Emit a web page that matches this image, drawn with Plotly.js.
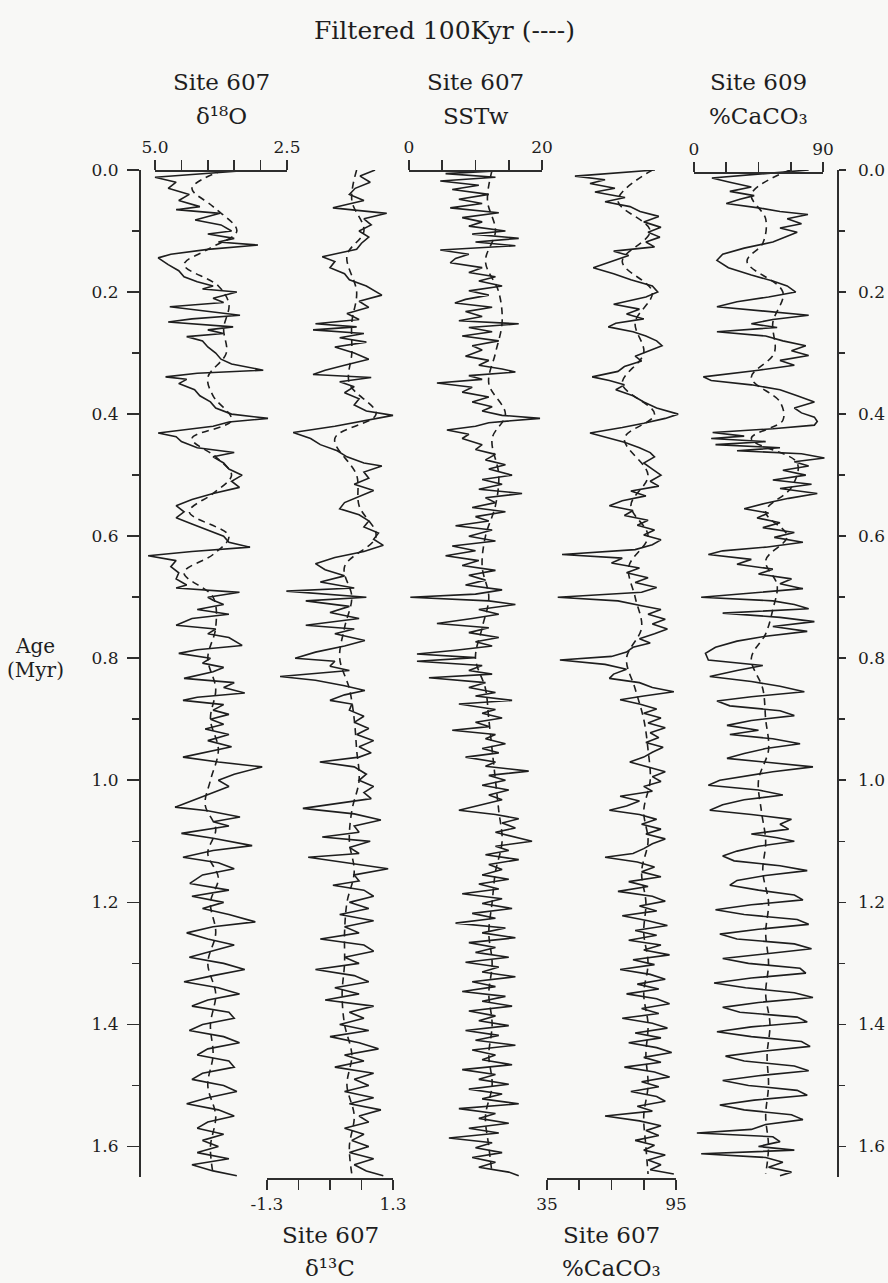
<!DOCTYPE html>
<html>
<head>
<meta charset="utf-8">
<script src="https://cdn.plot.ly/plotly-3.0.1.min.js"></script>
<style>html,body{margin:0;padding:0;background:#f8f8f6;}#chart{width:888px;height:1283px;}</style>
</head>
<body>
<div id="chart"></div>
<script>
// ---------- DATA (age in Myr, value) ----------
const d18O = [[0.000,3.14],[0.012,5.0],[0.02,4.6],[0.03,4.75],[0.04,4.35],[0.05,4.55],[0.06,4.15],[0.065,4.6],[0.071,3.77],[0.082,4.24],[0.09,3.75],[0.1,3.55],[0.105,4.0],[0.112,3.5],[0.118,3.8],[0.123,3.05],[0.13,4.0],[0.138,4.7],[0.144,4.94],[0.155,4.75],[0.165,4.55],[0.175,4.45],[0.183,4.2],[0.19,3.9],[0.195,4.1],[0.2,3.45],[0.21,3.9],[0.217,3.7],[0.224,4.72],[0.232,3.9],[0.238,3.39],[0.244,4.3],[0.249,4.75],[0.257,3.52],[0.262,4.0],[0.268,3.7],[0.273,4.4],[0.28,4.1],[0.29,4.0],[0.3,3.85],[0.31,3.75],[0.318,3.55],[0.328,2.95],[0.333,4.2],[0.339,4.8],[0.343,4.4],[0.35,4.55],[0.36,4.25],[0.37,4.15],[0.38,3.95],[0.39,3.85],[0.4,3.55],[0.407,2.86],[0.413,3.6],[0.42,3.9],[0.431,4.94],[0.437,4.6],[0.445,4.5],[0.455,4.2],[0.463,3.5],[0.47,3.9],[0.48,3.7],[0.49,3.6],[0.5,3.35],[0.51,3.55],[0.52,3.4],[0.53,3.9],[0.54,4.3],[0.55,4.6],[0.56,4.45],[0.57,4.6],[0.58,4.3],[0.59,4.0],[0.6,3.7],[0.61,3.6],[0.618,3.2],[0.625,4.3],[0.632,5.13],[0.64,4.6],[0.65,4.7],[0.66,4.55],[0.67,4.6],[0.68,4.4],[0.685,4.6],[0.692,3.4],[0.70,4.0],[0.705,3.9],[0.712,3.7],[0.72,4.2],[0.728,3.6],[0.735,4.3],[0.746,4.6],[0.752,3.85],[0.76,4.0],[0.766,3.6],[0.779,3.35],[0.786,4.2],[0.792,4.55],[0.8,3.95],[0.808,4.1],[0.815,3.7],[0.822,3.9],[0.833,4.45],[0.84,3.5],[0.848,3.7],[0.857,3.3],[0.864,4.2],[0.869,4.47],[0.876,3.7],[0.885,3.9],[0.892,3.6],[0.9,3.95],[0.908,3.7],[0.916,4.05],[0.925,3.6],[0.935,4.0],[0.945,3.55],[0.955,4.1],[0.962,4.47],[0.97,3.8],[0.978,2.97],[0.99,3.5],[1.0,3.8],[1.01,3.6],[1.02,3.9],[1.03,4.2],[1.044,4.62],[1.05,4.0],[1.06,3.39],[1.068,3.9],[1.075,3.6],[1.087,4.5],[1.095,3.9],[1.107,3.16],[1.115,3.9],[1.126,4.47],[1.135,3.8],[1.145,3.5],[1.155,4.1],[1.169,4.34],[1.18,3.6],[1.19,4.3],[1.2,3.7],[1.21,4.1],[1.22,3.6],[1.232,3.1],[1.24,3.9],[1.25,4.4],[1.26,4.0],[1.27,3.5],[1.28,3.9],[1.29,4.35],[1.3,3.7],[1.31,3.3],[1.32,3.9],[1.33,4.45],[1.34,3.8],[1.35,3.4],[1.36,4.0],[1.37,4.3],[1.38,3.6],[1.39,3.5],[1.4,4.1],[1.41,4.35],[1.42,3.7],[1.43,3.4],[1.44,4.0],[1.45,4.2],[1.46,3.6],[1.47,3.5],[1.48,4.1],[1.49,4.3],[1.5,3.7],[1.51,3.45],[1.52,4.0],[1.53,4.4],[1.54,3.8],[1.55,3.5],[1.56,4.0],[1.57,4.2],[1.58,3.7],[1.59,4.1],[1.6,3.8],[1.61,4.2],[1.62,3.6],[1.63,4.3],[1.64,3.9],[1.648,3.45]];
const d18OFilt = [[0.0,3.7],[0.03,4.3],[0.06,3.9],[0.1,3.45],[0.13,4.0],[0.155,4.45],[0.19,3.8],[0.22,3.6],[0.26,3.7],[0.3,3.65],[0.34,4.0],[0.37,3.9],[0.41,3.55],[0.44,4.3],[0.47,3.85],[0.5,3.55],[0.53,3.9],[0.56,4.35],[0.6,3.6],[0.63,3.9],[0.66,4.45],[0.7,3.9],[0.75,3.85],[0.8,4.0],[0.85,3.85],[0.9,3.95],[0.95,3.8],[1.0,3.95],[1.04,4.05],[1.08,3.85],[1.12,4.0],[1.16,3.8],[1.2,3.95],[1.25,3.85],[1.3,4.0],[1.35,3.85],[1.4,3.95],[1.45,3.9],[1.5,4.0],[1.55,3.85],[1.6,3.95],[1.645,3.9]];

const d13C = [[0.0,0.93],[0.01,0.62],[0.02,0.83],[0.03,0.52],[0.04,0.4],[0.05,0.7],[0.062,0.06],[0.071,1.17],[0.08,0.7],[0.09,0.85],[0.1,0.6],[0.11,0.8],[0.12,0.65],[0.13,0.55],[0.142,-0.16],[0.15,0.1],[0.16,0.0],[0.17,0.3],[0.18,0.4],[0.19,0.75],[0.205,1.07],[0.215,0.6],[0.225,0.8],[0.235,0.35],[0.245,0.6],[0.252,-0.3],[0.257,0.55],[0.262,-0.35],[0.268,0.7],[0.275,0.2],[0.282,0.75],[0.29,0.1],[0.3,0.5],[0.31,0.8],[0.32,0.3],[0.328,-0.1],[0.335,-0.35],[0.34,0.85],[0.347,0.2],[0.355,0.5],[0.365,0.3],[0.375,0.6],[0.385,0.5],[0.395,0.75],[0.402,1.3],[0.41,0.8],[0.42,0.1],[0.43,-0.76],[0.44,-0.4],[0.45,-0.2],[0.46,0.15],[0.47,0.35],[0.48,0.7],[0.485,1.07],[0.495,0.7],[0.505,0.8],[0.515,0.5],[0.525,0.9],[0.535,0.6],[0.545,0.3],[0.555,0.2],[0.565,0.6],[0.575,0.8],[0.585,0.7],[0.595,1.0],[0.605,0.9],[0.615,1.1],[0.625,0.7],[0.635,0.1],[0.645,-0.3],[0.655,-0.1],[0.665,0.3],[0.675,-0.2],[0.685,0.5],[0.69,-0.9],[0.7,0.75],[0.706,-0.5],[0.715,0.4],[0.725,0.0],[0.735,0.6],[0.746,-0.5],[0.752,0.5],[0.76,0.1],[0.771,0.72],[0.78,0.3],[0.79,-0.3],[0.8,-0.72],[0.805,0.1],[0.813,0.0],[0.82,0.4],[0.83,-1.03],[0.836,-0.3],[0.845,0.3],[0.853,0.72],[0.86,0.3],[0.869,0.0],[0.875,0.45],[0.885,0.4],[0.895,0.7],[0.905,0.5],[0.915,0.8],[0.925,0.55],[0.935,0.9],[0.945,0.6],[0.955,0.85],[0.962,0.6],[0.97,-0.21],[0.978,0.5],[0.99,0.75],[1.0,0.6],[1.01,0.9],[1.02,0.7],[1.03,0.85],[1.046,-0.56],[1.055,0.5],[1.065,1.05],[1.075,0.5],[1.085,0.6],[1.093,-0.16],[1.1,0.83],[1.11,0.4],[1.12,0.6],[1.126,-0.45],[1.135,0.3],[1.145,1.2],[1.155,0.5],[1.165,0.6],[1.172,0.06],[1.18,0.7],[1.19,0.9],[1.2,0.4],[1.21,0.8],[1.22,0.2],[1.23,0.9],[1.24,0.3],[1.25,0.6],[1.26,-0.2],[1.27,0.7],[1.28,0.9],[1.29,0.3],[1.3,0.6],[1.31,-0.3],[1.32,0.5],[1.33,0.8],[1.34,0.1],[1.35,0.6],[1.36,-0.1],[1.37,0.9],[1.38,0.4],[1.39,0.7],[1.4,0.2],[1.41,0.8],[1.42,0.0],[1.43,0.6],[1.44,1.0],[1.45,0.3],[1.46,0.7],[1.47,0.1],[1.48,0.9],[1.49,0.5],[1.5,0.8],[1.51,0.3],[1.52,0.9],[1.53,0.4],[1.54,1.05],[1.55,0.6],[1.56,0.8],[1.57,0.3],[1.58,0.7],[1.59,0.45],[1.6,0.8],[1.61,0.4],[1.62,0.9],[1.63,0.5],[1.64,0.75],[1.648,1.1]];
const d13CFilt = [[0.0,0.55],[0.05,0.45],[0.1,0.7],[0.14,0.35],[0.2,0.55],[0.25,0.45],[0.3,0.45],[0.35,0.4],[0.4,0.95],[0.44,0.1],[0.5,0.55],[0.55,0.6],[0.6,0.95],[0.65,0.3],[0.7,0.45],[0.75,0.3],[0.8,0.2],[0.85,0.4],[0.9,0.5],[0.95,0.55],[1.0,0.6],[1.05,0.45],[1.1,0.4],[1.15,0.5],[1.2,0.35],[1.25,0.3],[1.3,0.3],[1.35,0.25],[1.4,0.3],[1.45,0.45],[1.5,0.35],[1.55,0.5],[1.6,0.4],[1.645,0.45]];

const sstw = [[0.0,15.5],[0.006,5.5],[0.012,13.0],[0.018,4.7],[0.025,10.5],[0.032,6.5],[0.04,12.0],[0.048,7.5],[0.055,11.0],[0.062,6.2],[0.07,13.5],[0.078,8.0],[0.085,11.0],[0.092,9.0],[0.1,14.5],[0.105,9.5],[0.112,16.5],[0.118,10.0],[0.124,16.0],[0.131,4.7],[0.138,9.0],[0.145,7.0],[0.152,6.2],[0.16,11.0],[0.168,9.0],[0.175,13.0],[0.182,10.5],[0.19,14.0],[0.198,9.0],[0.205,12.0],[0.212,8.5],[0.218,6.9],[0.225,12.5],[0.232,8.5],[0.24,11.0],[0.247,7.5],[0.252,16.5],[0.258,9.0],[0.265,12.5],[0.272,8.0],[0.28,13.5],[0.288,9.5],[0.295,11.0],[0.305,8.5],[0.312,12.0],[0.32,10.5],[0.326,14.0],[0.331,16.0],[0.337,9.0],[0.343,11.0],[0.349,4.2],[0.356,9.5],[0.364,8.0],[0.372,12.0],[0.38,9.5],[0.388,12.5],[0.395,11.0],[0.402,14.0],[0.407,19.7],[0.414,12.0],[0.42,10.0],[0.426,5.7],[0.433,9.0],[0.44,8.0],[0.45,11.0],[0.458,10.0],[0.466,13.0],[0.475,11.5],[0.483,14.5],[0.49,12.0],[0.5,15.5],[0.507,11.0],[0.515,14.0],[0.523,10.5],[0.53,17.0],[0.537,11.5],[0.545,13.0],[0.553,9.5],[0.56,14.5],[0.568,10.0],[0.575,12.0],[0.583,7.0],[0.59,12.5],[0.6,9.0],[0.608,13.0],[0.616,6.5],[0.624,10.0],[0.632,5.5],[0.64,10.5],[0.648,8.0],[0.656,13.0],[0.664,9.0],[0.672,11.5],[0.68,8.5],[0.688,14.0],[0.695,10.0],[0.70,0.2],[0.706,12.0],[0.712,16.0],[0.72,10.5],[0.728,13.5],[0.735,9.5],[0.743,4.2],[0.75,12.0],[0.758,9.0],[0.766,13.5],[0.773,10.0],[0.78,12.5],[0.787,7.0],[0.793,1.2],[0.799,10.0],[0.805,1.2],[0.812,11.0],[0.82,9.0],[0.826,12.5],[0.832,3.0],[0.84,11.5],[0.848,9.0],[0.856,13.0],[0.862,10.0],[0.869,15.5],[0.875,7.5],[0.884,13.0],[0.89,11.0],[0.898,14.0],[0.905,10.0],[0.912,12.0],[0.918,6.5],[0.925,13.0],[0.932,11.5],[0.94,14.5],[0.948,11.0],[0.955,13.5],[0.962,8.5],[0.97,13.0],[0.977,11.5],[0.985,18.0],[0.992,12.0],[1.0,14.5],[1.008,11.0],[1.016,15.0],[1.024,12.0],[1.032,14.0],[1.04,11.0],[1.049,7.5],[1.056,13.0],[1.063,16.5],[1.07,14.0],[1.078,16.0],[1.085,13.0],[1.092,15.5],[1.1,18.5],[1.108,13.0],[1.115,15.0],[1.122,11.5],[1.13,16.5],[1.138,12.0],[1.146,14.0],[1.155,11.0],[1.162,15.0],[1.17,10.5],[1.178,13.5],[1.186,8.0],[1.194,14.0],[1.202,11.0],[1.21,15.5],[1.218,9.5],[1.226,13.0],[1.234,7.0],[1.242,14.5],[1.25,11.0],[1.258,16.0],[1.266,9.0],[1.274,13.0],[1.282,10.0],[1.29,15.0],[1.298,8.5],[1.306,13.5],[1.314,11.0],[1.322,16.0],[1.33,9.5],[1.338,13.0],[1.346,8.0],[1.354,14.5],[1.362,11.0],[1.37,15.5],[1.378,9.0],[1.386,13.0],[1.394,10.5],[1.402,15.0],[1.41,8.5],[1.418,13.5],[1.426,10.0],[1.434,16.0],[1.442,9.5],[1.45,13.0],[1.458,11.0],[1.466,15.5],[1.474,8.0],[1.482,13.0],[1.49,10.5],[1.498,15.0],[1.506,9.0],[1.514,14.0],[1.522,11.0],[1.53,16.5],[1.538,7.5],[1.546,13.0],[1.554,10.5],[1.562,15.0],[1.57,9.0],[1.578,13.5],[1.586,6.0],[1.594,12.5],[1.602,10.0],[1.61,14.0],[1.618,9.5],[1.626,13.0],[1.634,10.5],[1.642,15.0],[1.648,16.5]];
const sstwFilt = [[0.0,12.5],[0.05,11.8],[0.1,13.0],[0.15,11.5],[0.2,13.5],[0.25,14.0],[0.3,13.0],[0.35,12.0],[0.4,14.5],[0.44,12.5],[0.5,13.5],[0.55,13.0],[0.6,11.5],[0.65,11.0],[0.7,12.0],[0.75,11.0],[0.8,10.0],[0.85,11.5],[0.9,12.0],[0.95,12.5],[1.0,13.0],[1.05,13.5],[1.1,14.0],[1.15,13.0],[1.2,12.5],[1.25,12.0],[1.3,12.5],[1.35,12.0],[1.4,12.5],[1.45,12.0],[1.5,12.5],[1.55,11.5],[1.6,12.0],[1.645,12.5]];

const caco3_607 = [[0.0,85.2],[0.01,48.0],[0.016,62.0],[0.022,55.0],[0.03,66.6],[0.036,57.3],[0.045,71.3],[0.052,62.0],[0.06,73.6],[0.068,78.3],[0.076,87.0],[0.085,80.0],[0.094,88.0],[0.102,82.0],[0.11,87.5],[0.118,81.0],[0.126,85.0],[0.133,66.0],[0.14,73.0],[0.147,67.0],[0.155,60.0],[0.16,56.5],[0.17,66.0],[0.18,74.0],[0.19,84.0],[0.2,86.5],[0.208,81.0],[0.215,73.0],[0.22,66.0],[0.228,78.0],[0.236,72.0],[0.244,80.0],[0.251,67.0],[0.257,63.5],[0.265,75.0],[0.272,81.0],[0.28,86.0],[0.288,88.5],[0.296,83.0],[0.305,76.0],[0.313,79.0],[0.322,71.0],[0.33,68.0],[0.339,56.0],[0.345,64.0],[0.352,71.0],[0.36,67.0],[0.37,75.0],[0.38,80.0],[0.39,86.0],[0.4,96.0],[0.407,90.0],[0.415,80.0],[0.422,70.0],[0.431,55.0],[0.438,62.0],[0.446,71.0],[0.455,78.0],[0.463,83.0],[0.47,85.0],[0.48,80.0],[0.49,84.0],[0.5,88.0],[0.51,83.0],[0.518,87.0],[0.526,74.0],[0.534,81.0],[0.542,70.0],[0.55,64.0],[0.558,75.0],[0.566,71.0],[0.574,82.0],[0.582,77.0],[0.59,85.0],[0.598,80.0],[0.606,88.0],[0.614,84.0],[0.622,76.0],[0.63,42.0],[0.636,70.0],[0.644,65.0],[0.652,78.0],[0.66,72.0],[0.668,82.0],[0.676,76.0],[0.684,86.0],[0.692,79.0],[0.70,40.0],[0.706,68.0],[0.714,79.0],[0.72,88.0],[0.728,82.0],[0.736,90.0],[0.744,84.0],[0.752,91.0],[0.76,85.0],[0.768,78.0],[0.775,83.0],[0.782,75.0],[0.79,72.0],[0.797,65.0],[0.803,41.0],[0.81,62.0],[0.818,72.0],[0.826,66.0],[0.833,64.0],[0.84,78.0],[0.848,84.0],[0.855,94.0],[0.862,80.0],[0.868,69.0],[0.875,78.0],[0.883,86.0],[0.89,80.0],[0.898,88.0],[0.906,82.0],[0.914,90.0],[0.922,83.0],[0.93,87.0],[0.938,81.0],[0.946,89.0],[0.954,84.0],[0.962,80.0],[0.97,73.5],[0.978,82.0],[0.986,90.0],[0.994,84.0],[1.002,88.0],[1.01,80.0],[1.018,84.0],[1.026,69.0],[1.034,78.0],[1.042,72.0],[1.049,64.0],[1.056,78.0],[1.064,86.0],[1.072,79.0],[1.08,88.0],[1.088,81.0],[1.096,90.0],[1.104,84.0],[1.112,80.0],[1.12,75.0],[1.126,62.0],[1.134,77.0],[1.142,85.0],[1.15,79.0],[1.158,88.0],[1.166,73.0],[1.174,82.0],[1.182,68.0],[1.19,84.0],[1.198,90.0],[1.206,78.0],[1.214,86.0],[1.222,70.0],[1.23,82.0],[1.238,91.0],[1.246,76.0],[1.254,86.0],[1.262,73.0],[1.27,88.0],[1.278,80.0],[1.286,92.0],[1.294,75.0],[1.302,85.0],[1.31,69.0],[1.318,83.0],[1.326,90.0],[1.334,77.0],[1.342,87.0],[1.35,72.0],[1.358,86.0],[1.366,92.0],[1.374,79.0],[1.382,87.0],[1.39,70.0],[1.398,84.0],[1.406,91.0],[1.414,76.0],[1.422,88.0],[1.43,73.0],[1.438,86.0],[1.446,93.0],[1.454,80.0],[1.462,88.0],[1.47,71.0],[1.478,85.0],[1.486,92.0],[1.494,79.0],[1.502,87.0],[1.51,74.0],[1.518,86.0],[1.526,90.0],[1.534,77.0],[1.542,84.0],[1.55,62.0],[1.558,78.0],[1.566,88.0],[1.574,81.0],[1.582,87.0],[1.59,76.0],[1.598,85.0],[1.606,80.0],[1.614,90.0],[1.622,82.0],[1.63,88.0],[1.638,83.0],[1.645,94.0]];
const caco3_607Filt = [[0.0,84.0],[0.05,68.0],[0.1,83.0],[0.15,70.0],[0.2,84.0],[0.25,76.0],[0.3,80.0],[0.35,70.0],[0.4,85.0],[0.44,71.0],[0.5,82.0],[0.55,74.0],[0.6,82.0],[0.65,73.0],[0.7,76.0],[0.75,79.0],[0.8,72.0],[0.85,76.0],[0.9,80.0],[0.95,82.0],[1.0,83.0],[1.05,80.0],[1.1,82.0],[1.15,79.0],[1.2,81.0],[1.25,80.0],[1.3,82.0],[1.35,80.0],[1.4,82.0],[1.45,81.0],[1.5,82.0],[1.55,80.0],[1.6,81.0],[1.645,82.0]];

const caco3_609 = [[0.0,80.0],[0.013,12.5],[0.02,25.0],[0.028,40.0],[0.035,25.0],[0.042,42.0],[0.048,32.0],[0.055,22.5],[0.062,45.0],[0.068,60.0],[0.073,79.5],[0.08,65.0],[0.088,75.0],[0.095,60.0],[0.102,72.0],[0.11,63.0],[0.118,55.0],[0.128,35.0],[0.138,20.0],[0.148,16.0],[0.16,24.0],[0.172,40.0],[0.182,55.0],[0.19,65.0],[0.2,71.0],[0.208,52.0],[0.216,30.0],[0.224,16.0],[0.232,50.0],[0.238,80.0],[0.245,55.0],[0.252,40.0],[0.258,58.0],[0.265,16.0],[0.272,50.0],[0.28,62.0],[0.288,78.0],[0.296,68.0],[0.304,80.0],[0.312,60.0],[0.32,70.0],[0.328,45.0],[0.339,6.5],[0.345,12.0],[0.352,40.0],[0.36,60.0],[0.37,72.0],[0.38,84.0],[0.39,70.0],[0.398,75.0],[0.405,84.0],[0.412,86.0],[0.418,84.0],[0.424,55.0],[0.43,13.0],[0.436,35.0],[0.44,12.0],[0.445,50.0],[0.45,15.0],[0.455,60.0],[0.46,30.0],[0.465,75.0],[0.472,91.0],[0.478,70.0],[0.485,80.0],[0.492,62.0],[0.5,78.0],[0.508,55.0],[0.515,82.0],[0.522,60.0],[0.53,86.0],[0.538,66.0],[0.546,50.0],[0.555,35.0],[0.562,52.0],[0.57,44.0],[0.578,60.0],[0.586,48.0],[0.594,70.0],[0.602,56.0],[0.61,76.0],[0.618,50.0],[0.624,20.0],[0.63,10.0],[0.638,40.0],[0.646,30.0],[0.654,55.0],[0.662,45.0],[0.67,68.0],[0.678,60.0],[0.686,76.0],[0.693,40.0],[0.70,5.0],[0.706,55.0],[0.712,70.0],[0.719,80.0],[0.726,20.0],[0.733,60.0],[0.74,84.0],[0.748,55.0],[0.756,79.0],[0.764,50.0],[0.772,30.0],[0.782,15.0],[0.792,8.0],[0.803,10.0],[0.812,48.0],[0.82,30.0],[0.83,11.0],[0.838,40.0],[0.846,60.0],[0.855,77.0],[0.863,40.0],[0.87,16.0],[0.878,25.0],[0.886,60.0],[0.894,70.0],[0.902,40.0],[0.91,23.0],[0.918,45.0],[0.925,25.0],[0.932,55.0],[0.94,74.0],[0.948,50.0],[0.956,35.0],[0.964,23.0],[0.972,60.0],[0.978,83.0],[0.986,55.0],[0.995,30.0],[1.0,18.0],[1.008,10.0],[1.016,45.0],[1.024,62.0],[1.032,35.0],[1.04,20.0],[1.049,11.0],[1.056,40.0],[1.064,68.0],[1.072,60.0],[1.08,66.0],[1.088,40.0],[1.094,58.0],[1.1,70.0],[1.108,45.0],[1.116,30.0],[1.124,20.0],[1.132,28.0],[1.14,60.0],[1.148,79.0],[1.156,50.0],[1.164,30.0],[1.172,25.0],[1.18,45.0],[1.188,70.0],[1.196,76.0],[1.204,40.0],[1.212,15.0],[1.22,35.0],[1.228,72.0],[1.236,80.0],[1.244,45.0],[1.252,18.0],[1.26,30.0],[1.268,70.0],[1.276,82.0],[1.284,50.0],[1.292,20.0],[1.3,38.0],[1.308,74.0],[1.316,78.0],[1.324,40.0],[1.332,14.0],[1.34,36.0],[1.348,70.0],[1.356,83.0],[1.364,45.0],[1.372,20.0],[1.38,32.0],[1.388,72.0],[1.396,79.0],[1.404,40.0],[1.412,16.0],[1.42,40.0],[1.428,75.0],[1.436,81.0],[1.444,48.0],[1.452,22.0],[1.46,35.0],[1.468,70.0],[1.476,80.0],[1.484,45.0],[1.492,20.0],[1.5,38.0],[1.508,72.0],[1.516,79.0],[1.524,42.0],[1.532,18.0],[1.54,35.0],[1.548,68.0],[1.556,76.0],[1.564,50.0],[1.572,40.0],[1.578,2.0],[1.584,55.0],[1.592,60.0],[1.6,45.0],[1.606,70.0],[1.612,5.0],[1.618,50.0],[1.626,62.0],[1.634,52.0],[1.642,68.0],[1.648,60.0]];
const caco3_609Filt = [[0.0,67.0],[0.04,40.0],[0.08,50.0],[0.12,48.0],[0.15,37.0],[0.2,62.0],[0.25,55.0],[0.3,56.0],[0.34,40.0],[0.38,60.0],[0.41,62.0],[0.44,40.0],[0.48,72.0],[0.52,68.0],[0.56,50.0],[0.6,65.0],[0.64,50.0],[0.68,58.0],[0.72,55.0],[0.76,50.0],[0.8,40.0],[0.85,48.0],[0.9,50.0],[0.95,52.0],[1.0,45.0],[1.05,47.0],[1.1,50.0],[1.15,48.0],[1.2,52.0],[1.25,50.0],[1.3,52.0],[1.35,50.0],[1.4,53.0],[1.45,51.0],[1.5,52.0],[1.55,50.0],[1.6,52.0],[1.645,50.0]];

// Tick labels
const ageTicks = [0.0,0.2,0.4,0.6,0.8,1.0,1.2,1.4,1.6];
const ageMinor = [0.1,0.3,0.5,0.7,0.9,1.1,1.3,1.5];

// ---------- LAYOUT GEOMETRY ----------
const W = 888, H = 1283;
const yTopPx = 170, yBotPx = 1177, ageMax = 1.65;
const px = v => v / W;
const py = v => 1 - v / H;

// panels: scale-bar extent on the page, value range, labelled end ticks, unlabelled inner ticks, titles
const panels = [
  {solid:d18O, filt:d18OFilt, x0:155, x1:287, v0:5.0, v1:2.5, inner:[4.5,4.0,3.5,3.0], labels:['5.0','2.5'], side:'top', pos:170, site:'Site 607', vname:'δ¹⁸O'},
  {solid:d13C, filt:d13CFilt, x0:267, x1:393, v0:-1.3, v1:1.3, inner:[-0.65,0,0.65], labels:['-1.3','1.3'], side:'bottom', pos:1178, site:'Site 607', vname:'δ¹³C'},
  {solid:sstw, filt:sstwFilt, x0:409, x1:542, v0:0, v1:20, inner:[5,10,15], labels:['0','20'], side:'top', pos:170, site:'Site 607', vname:'SSTw'},
  {solid:caco3_607, filt:caco3_607Filt, x0:547, x1:676, v0:35, v1:95, inner:[50,65,80], labels:['35','95'], side:'bottom', pos:1178, site:'Site 607', vname:'%CaCO₃'},
  {solid:caco3_609, filt:caco3_609Filt, x0:694, x1:823, v0:0, v1:90, inner:[22.5,45,67.5], labels:['0','90'], side:'top', pos:172, site:'Site 609', vname:'%CaCO₃'}
];

const lineCol = '#1e1e1e';
const axCol = '#2e2e2e';
const fontFam = 'DejaVu Serif, Liberation Serif, serif';
const tickFont = {size: 17, family: fontFam, color: '#1e1e1e'};

const traces = [];
const layout = {
  width: W, height: H,
  margin: {l:0, r:0, t:0, b:0},
  paper_bgcolor: '#f8f8f6',
  plot_bgcolor: 'rgba(0,0,0,0)',
  showlegend: false,
  font: {family: fontFam, color: '#1e1e1e', size: 17},
  yaxis: {
    domain: [py(yBotPx), py(yTopPx)], range: [ageMax, 0], autorange: false,
    anchor: 'free', position: px(139), side: 'left',
    showline: true, linecolor: axCol, linewidth: 1.6,
    ticks: 'outside', ticklen: 12, tickwidth: 1.6, tickcolor: axCol, ticklabelstandoff: 5,
    tickvals: ageTicks, ticktext: ageTicks.map(v => v.toFixed(1)),
    minor: {tickvals: ageMinor, ticks: 'outside', ticklen: 7, tickwidth: 1.6, tickcolor: axCol},
    showgrid: false, zeroline: false, tickfont: tickFont
  },
  yaxis2: {
    overlaying: 'y', range: [ageMax, 0], autorange: false,
    anchor: 'free', position: px(837), side: 'right',
    showline: true, linecolor: axCol, linewidth: 1.6,
    ticks: 'outside', ticklen: 7, tickwidth: 1.6, tickcolor: axCol, ticklabelstandoff: 9,
    tickvals: ageTicks, ticktext: ageTicks.map(v => v.toFixed(1)),
    minor: {tickvals: ageMinor, ticks: 'outside', ticklen: 6, tickwidth: 1.6, tickcolor: axCol},
    showgrid: false, zeroline: false, tickfont: tickFont
  },
  annotations: []
};

function ann(text, x, y, size) {
  layout.annotations.push({text: text, xref: 'paper', yref: 'paper', x: px(x), y: py(y),
    xanchor: 'center', yanchor: 'middle', showarrow: false,
    font: {family: fontFam, size: size, color: '#1e1e1e'}});
}

panels.forEach((p, i) => {
  const k = i + 1;
  const dataAx = k === 1 ? 'x' : 'x' + k;
  const barAx = 'x' + (k + 5);
  // data axis spans the whole page with the same scale as the scale bar
  const s = (p.v1 - p.v0) / (p.x1 - p.x0);
  const R0 = p.v0 - p.x0 * s;
  const R1 = p.v0 + (W - p.x0) * s;
  const dataKey = k === 1 ? 'xaxis' : 'xaxis' + k;
  layout[dataKey] = {domain: [0, 1], range: [R0, R1], autorange: false, visible: false, anchor: 'y'};
  if (k > 1) layout[dataKey].overlaying = 'x';
  layout['xaxis' + (k + 5)] = {
    domain: [px(p.x0), px(p.x1)], range: [p.v0, p.v1], autorange: false,
    anchor: 'free', position: py(p.pos), side: p.side,
    showline: true, linecolor: axCol, linewidth: 1.6,
    ticks: 'outside', ticklen: 10, tickwidth: 1.6, tickcolor: axCol,
    tickvals: [p.v0, p.v1], ticktext: p.labels,
    minor: {tickvals: p.inner, ticks: 'outside', ticklen: 10, tickwidth: 1.6, tickcolor: axCol},
    showgrid: false, zeroline: false, tickfont: tickFont
  };
  traces.push({
    type: 'scatter', mode: 'lines', xaxis: dataAx, yaxis: 'y',
    x: p.solid.map(d => d[1]), y: p.solid.map(d => d[0]),
    line: {color: lineCol, width: 1.6}, hoverinfo: 'skip'
  });
  traces.push({
    type: 'scatter', mode: 'lines', xaxis: dataAx, yaxis: 'y',
    x: p.filt.map(d => d[1]), y: p.filt.map(d => d[0]),
    line: {color: lineCol, width: 1.6, dash: '7px,5px', shape: 'spline', smoothing: 1.0}, hoverinfo: 'skip'
  });
  traces.push({type: 'scatter', mode: 'lines', xaxis: barAx, yaxis: 'y', x: [], y: [], hoverinfo: 'skip'});
  // panel titles centred over their scale bars
  const cx = (p.x0 + p.x1) / 2;
  if (p.side === 'top') { ann(p.site, cx, 82, 23); ann(p.vname, cx, 116, 23); }
  else { ann(p.site, cx, 1235, 23); ann(p.vname, cx, 1268, 23); }
});
traces.push({type: 'scatter', mode: 'lines', xaxis: 'x', yaxis: 'y2', x: [], y: [], hoverinfo: 'skip'});

ann('Filtered 100Kyr (----)', 444, 30, 25);
ann('Age', 35, 646, 20);
ann('(Myr)', 35, 670, 20);

Plotly.newPlot('chart', traces, layout, {staticPlot: true, displayModeBar: false});
</script>
</body>
</html>
